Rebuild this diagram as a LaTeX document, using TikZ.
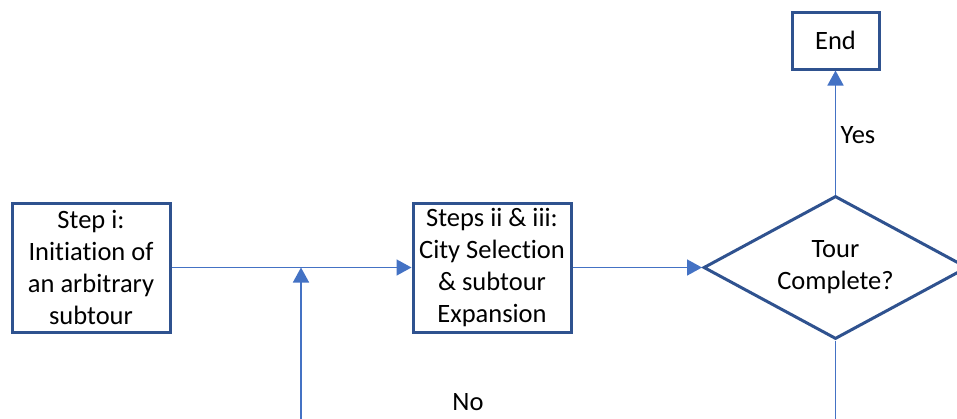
\documentclass[tikz,border=0pt]{standalone}
\usepackage{fontspec}
\setmainfont{Carlito}[Ligatures={NoCommon}]
\usetikzlibrary{shapes.geometric,arrows.meta}
\definecolor{boxblue}{HTML}{2F528F}
\definecolor{lineblue}{HTML}{4472C4}
\tikzset{
  stepbox/.style={draw=boxblue, line width=3pt, fill=white, inner sep=0pt,
    minimum width=158pt, minimum height=129pt, align=center,
    font=\fontsize{26.5}{32}\selectfont},
  endbox/.style={draw=boxblue, line width=3pt, fill=white, inner sep=0pt,
    minimum width=87pt, minimum height=57pt, align=center,
    font=\fontsize{26.5}{32}\selectfont},
  decision/.style={draw=boxblue, line width=3pt, fill=white, shape=diamond,
    inner sep=0pt, aspect=1.86, minimum width=264pt, minimum height=143pt,
    align=center, font=\fontsize{26.5}{32}\selectfont},
  conn/.style={draw=lineblue, line width=1.6pt},
  arr/.style={conn, -{Triangle[length=15pt,width=16pt]}},
  lbl/.style={font=\fontsize{26.5}{32}\selectfont, inner sep=0pt}
}
\begin{document}
\begin{tikzpicture}[x=1pt,y=-1pt]
\useasboundingbox (0,0) rectangle (957,418);
\clip (0,0) rectangle (957,418);
\node[stepbox] (s1) at (91,267.5) {Step i:\\Initiation of\\an arbitrary\\subtour};
\node[stepbox] (s2) at (492,267.5) {Steps ii \& iii:\\City Selection\\\& subtour\\Expansion};
\node[decision] (d) at (835.5,267.5) {Tour\\Complete?};
\node[endbox] (e) at (835.5,40.5) {End};
\coordinate (j) at (301,267.5);
\coordinate (jb) at (301,440);
\coordinate (db) at (835.5,440);
\draw[arr] (s1.east) -- (s2.west);
\draw[arr] (jb) -- (j);
\draw[arr] (s2.east) -- (d.west);
\draw[arr] (d.north) -- (e.south);
\draw[conn] (d.south) -- (db);
\node[lbl] (yes) at (858,135) {Yes};
\node[lbl] (no) at (468,402) {No};
\end{tikzpicture}
\end{document}
